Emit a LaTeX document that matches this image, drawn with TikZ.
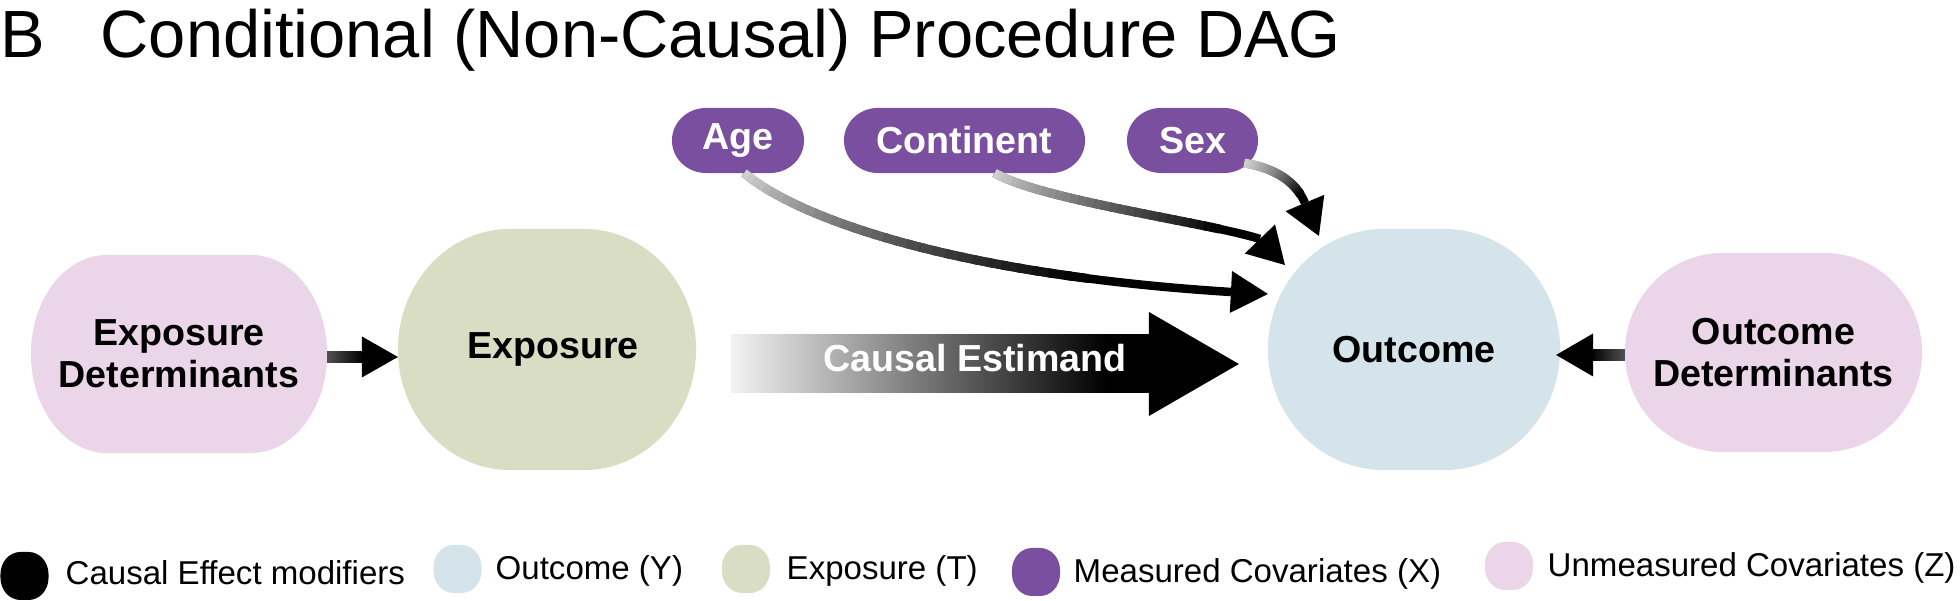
\documentclass[tikz,border=0pt]{standalone}
\usepackage{fontspec}
\setmainfont{Liberation Sans}
\usetikzlibrary{calc,arrows.meta,backgrounds}
\definecolor{pinkz}{HTML}{EAD6E8}
\definecolor{greent}{HTML}{D8DDC3}
\definecolor{bluey}{HTML}{D5E4EB}
\definecolor{purplex}{HTML}{7A4F9F}

\pgfdeclarehorizontalshading{estgrad}{100bp}{color(0bp)=(white); color(25bp)=(white!95!black); color(70bp)=(black); color(100bp)=(black)}

\newcommand\blobfill[4]{%
  \fill[#4] ($(#1.north west)+(#2,0)$) -- ($(#1.north east)-(#2,0)$)
    arc[start angle=90,end angle=0,x radius=#2,y radius=#3]
    -- ($(#1.south east)+(0,#3)$)
    arc[start angle=0,end angle=-90,x radius=#2,y radius=#3]
    -- ($(#1.south west)+(#2,0)$)
    arc[start angle=-90,end angle=-180,x radius=#2,y radius=#3]
    -- ($(#1.north west)-(0,#3)$)
    arc[start angle=180,end angle=90,x radius=#2,y radius=#3] -- cycle;}

% #1 start, #2 #3 controls, #4 head base, #5 tip
\newcommand\gradcurve[5]{%
  \draw[curvebase] (#1) .. controls (#2) and (#3) .. (#4);
  \foreach \i in {0,...,31}{%
    \pgfmathsetmacro\ta{\i*0.025}%
    \pgfmathsetmacro\tb{\i*0.025+0.035}%
    \pgfmathtruncatemacro\kk{min(100,18+82*(\i*0.025+0.012)/0.8)}%
    \path ($(#1)!\ta!(#2)$) coordinate (qa1) ($(#2)!\ta!(#3)$) coordinate (qa2) ($(#3)!\ta!(#4)$) coordinate (qa3);
    \path ($(qa1)!\ta!(qa2)$) coordinate (ra1) ($(qa2)!\ta!(qa3)$) coordinate (ra2);
    \path ($(ra1)!\ta!(ra2)$) coordinate (sa);
    \path ($(#1)!\tb!(#2)$) coordinate (qb1) ($(#2)!\tb!(#3)$) coordinate (qb2) ($(#3)!\tb!(#4)$) coordinate (qb3);
    \path ($(qb1)!\tb!(qb2)$) coordinate (rb1) ($(qb2)!\tb!(qb3)$) coordinate (rb2);
    \path ($(rb1)!\tb!(rb2)$) coordinate (sb);
    \draw[curveline, black!\kk] (sa) -- (sb);
  }
  \fill[black] (#5) -- ($(#4)!0.21cm!90:(#5)$) -- ($(#4)!0.21cm!-90:(#5)$) -- cycle;}

\begin{document}
\begin{tikzpicture}[x=0.01cm,y=0.01cm,
  blob/.style={inner sep=0pt, outer sep=0pt, align=center,
    font=\fontsize{10.7}{12}\selectfont\bfseries},
  pill/.style={inner sep=0pt, outer sep=0pt, minimum height=0.65cm, text=white,
    font=\fontsize{10.7}{12}\selectfont\bfseries},
  legpill/.style={inner sep=0pt, outer sep=0pt, minimum width=0.48cm, minimum height=0.48cm},
  legtext/.style={anchor=base west, inner sep=0pt, font=\fontsize{9.4}{11}\selectfont},
  curvebase/.style={line width=0.085cm, black, line cap=butt},
  curveline/.style={line width=0.09cm, line cap=butt}]
\useasboundingbox (0,0) rectangle (1960,601);

% title
\node[anchor=base west, inner sep=0pt, font=\fontsize{19}{22}\selectfont] (lbl) at (0,543) {B};
\node[anchor=base west, inner sep=0pt, font=\fontsize{19}{22}\selectfont] (title) at (100,543) {Conditional (Non-Causal) Procedure DAG};

% main nodes
\node[blob, minimum width=2.96cm, minimum height=1.98cm] (expdet) at (179,247) {Exposure\\Determinants};
\node[blob, minimum width=2.98cm, minimum height=2.41cm] (exp) at (547,251.5) {\hspace*{0.12cm}Exposure};
\node[blob, minimum width=2.92cm, minimum height=2.41cm] (outc) at (1414,251.5) {Outcome};
\node[blob, minimum width=2.97cm, minimum height=1.99cm] (outdet) at (1773.5,248.5) {Outcome\\Determinants};
\node[pill, minimum width=1.32cm] (age) at (738,460.5) {Age};
\node[pill, minimum width=2.41cm] (cont) at (964.5,460.5) {Continent};
\node[pill, minimum width=1.31cm] (sex) at (1192.5,460.5) {Sex};

% legend
\node[legpill] (lk) at (24.5,25) {};
\node[legtext] (lkt) at (65,16) {Causal Effect modifiers};
\node[legpill] (ly) at (457.5,32) {};
\node[legtext] (lyt) at (495,21) {Outcome (Y)};
\node[legpill] (lt) at (746,32) {};
\node[legtext] (ltt) at (786,21) {Exposure (T)};
\node[legpill] (lx) at (1036,29) {};
\node[legtext] (lxt) at (1073,18) {Measured Covariates (X)};
\node[legpill] (lz) at (1509,35) {};
\node[legtext] (lzt) at (1547,24) {Unmeasured Covariates (Z)};

\begin{pgfonlayer}{background}
\blobfill{expdet}{0.76cm}{0.99cm}{pinkz}
\blobfill{exp}{1.12cm}{1.205cm}{greent}
\blobfill{outc}{1.16cm}{1.205cm}{bluey}
\blobfill{outdet}{0.98cm}{0.995cm}{pinkz}
\blobfill{age}{0.34cm}{0.325cm}{purplex}
\blobfill{cont}{0.34cm}{0.325cm}{purplex}
\blobfill{sex}{0.34cm}{0.325cm}{purplex}
\blobfill{lk}{0.2cm}{0.22cm}{black}
\blobfill{ly}{0.2cm}{0.22cm}{bluey}
\blobfill{lt}{0.2cm}{0.22cm}{greent}
\blobfill{lx}{0.2cm}{0.22cm}{purplex}
\blobfill{lz}{0.2cm}{0.22cm}{pinkz}
\end{pgfonlayer}

% short arrows: Exposure Determinants -> Exposure
\coordinate (x0) at ($(expdet.east)+(0,-3)$);
\coordinate (x1) at (exp.west |- x0);
\shade[left color=black!68, right color=black] ($(x0)+(0,5.5)$) rectangle ($(x1)+(-35,-5.5)$);
\fill[black] ($(x1)+(-36,20.5)$) -- (x1) -- ($(x1)+(-36,-20.5)$) -- cycle;
% Outcome Determinants -> Outcome
\coordinate (y0) at ($(outdet.west)+(0,-2.5)$);
\coordinate (y1) at ($(outc.east |- y0)+(-4,0)$);
\shade[left color=black, right color=black!68] ($(y1)+(35,5.5)$) rectangle ($(y0)+(0,-5.5)$);
\fill[black] ($(y1)+(37,21.5)$) -- (y1) -- ($(y1)+(37,-21.5)$) -- cycle;

% causal estimand arrow
\coordinate (ce0) at ($(exp.east)+(35,-14.5)$);
\coordinate (ce1) at ($(outc.west)+(-29,-14.5)$);
\shade[shading=estgrad] ($(ce0)+(0,29)$) rectangle ($(ce1)+(-89,-29)$);
\fill[black] ($(ce1)+(-90,52)$) -- (ce1) -- ($(ce1)+(-90,-52)$) -- cycle;
\node[anchor=base, inner sep=0pt, text=white, font=\fontsize{10.7}{12}\selectfont\bfseries] (cetext) at (975,229) {Causal Estimand};

% curved arrows
\coordinate (a0) at ($(age.south)+(6,0)$);
\coordinate (aT) at ($(outc.west)+(0,55.5)$);
\coordinate (aB) at ($(aT)+(-37,2)$);
\coordinate (a1) at ($(a0)+(56,-47)$);
\coordinate (a2) at ($(aB)+(-271,17)$);
\gradcurve{a0}{a1}{a2}{aB}{aT}

\coordinate (c0) at ($(cont.south)+(30,0)$);
\coordinate (cT) at ($(outc.west)+(17,84.5)$);
\coordinate (cB) at ($(cT)+(-25,26)$);
\coordinate (c1) at ($(c0)+(46,-27)$);
\coordinate (c2) at ($(cB)+(-50,16)$);
\gradcurve{c0}{c1}{c2}{cB}{cT}

\coordinate (s0) at ($(sex.south east)+(-14,10)$);
\coordinate (sT) at ($(outc.west)+(51,113.5)$);
\coordinate (sB) at ($(sT)+(-14,33)$);
\coordinate (s1) at ($(s0)+(41,-7)$);
\coordinate (s2) at ($(sB)+(-6,14)$);
\gradcurve{s0}{s1}{s2}{sB}{sT}
\end{tikzpicture}
\end{document}
